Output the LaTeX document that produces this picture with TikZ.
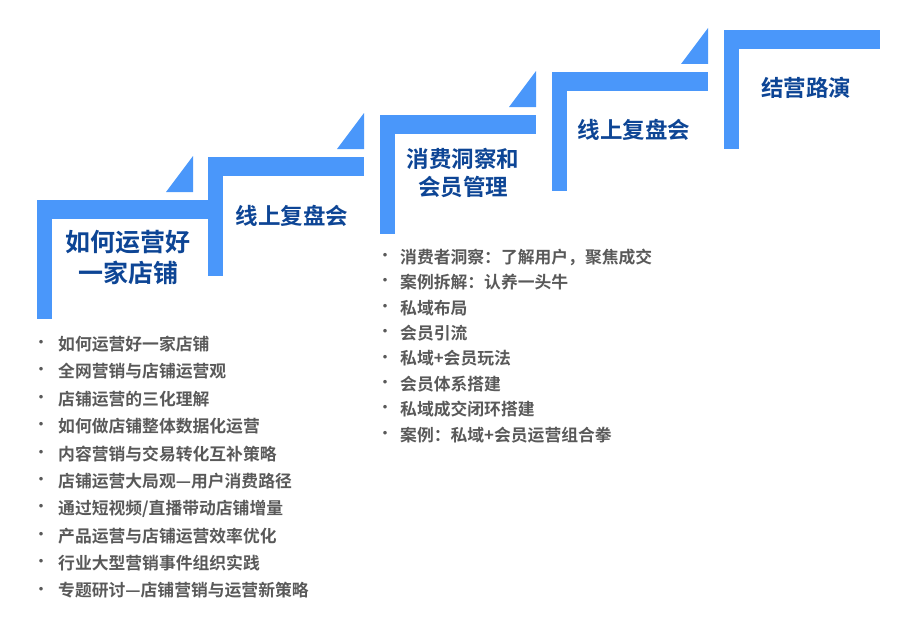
\documentclass[tikz,border=0pt]{standalone}
\usepackage{fontspec}
\newfontfamily\cjkb{Noto Sans CJK SC Bold}
\definecolor{stepblue}{HTML}{4A97FA}
\definecolor{titleblue}{HTML}{0D4595}
\definecolor{txtgray}{HTML}{595959}
\begin{document}
\begin{tikzpicture}[x=1pt,y=-1pt,
  title/.style={font=\cjkb\fontsize{22.5}{28}\selectfont, text=titleblue, align=center, inner sep=0},
  item/.style={font=\cjkb\fontsize{16.8}{19}\selectfont, text=txtgray, anchor=west, inner sep=0},
  dot/.style={font=\cjkb\fontsize{14}{16}\selectfont, text=txtgray, inner sep=0}]
\useasboundingbox (0,0) rectangle (915,626);
\foreach \x/\y/\w/\tri in {37/200/171/1, 208/157/156/1, 380/115/156/1, 552/72/156/1, 724/30/156/0}{
  \fill[stepblue] (\x,\y) rectangle ++(\w,19);
  \fill[stepblue] (\x,\y) rectangle ++(15,119);
  \ifnum\tri=1
    \fill[stepblue] (\x+156,\y-8) -- (\x+129,\y-8) -- (\x+156,\y-44) -- cycle;
  \fi
}
\node[title, font=\cjkb\fontsize{25}{31}\selectfont] (t1) at (128,257) {如何运营好\\一家店铺};
\node[title] (t2) at (292,216) {线上复盘会};
\node[title] (t3) at (463,173) {消费洞察和\\会员管理};
\node[title] (t4) at (634,130) {线上复盘会};
\node[title] (t5) at (806,88) {结营路演};
\foreach \t [count=\i] in {如何运营好一家店铺,全网营销与店铺运营观,店铺运营的三化理解,如何做店铺整体数据化运营,内容营销与交易转化互补策略,店铺运营大局观—用户消费路径,通过短视频/直播带动店铺增量,产品运营与店铺运营效率优化,行业大型营销事件组织实践,专题研讨—店铺营销与运营新策略}{
  \node[dot] (ld\i) at (41,344+27.4*\i-27.4) {•};
  \node[item] (l\i) at (58,344+27.4*\i-27.4) {\t};
}
\foreach \t [count=\i] in {消费者洞察：了解用户，聚焦成交,案例拆解：认养一头牛,私域布局,会员引流,私域+会员玩法,会员体系搭建,私域成交闭环搭建,案例：私域+会员运营组合拳}{
  \node[dot] (rd\i) at (385,257+25.4*\i-25.4) {•};
  \node[item] (r\i) at (400,257+25.4*\i-25.4) {\t};
}
\end{tikzpicture}
\end{document}
